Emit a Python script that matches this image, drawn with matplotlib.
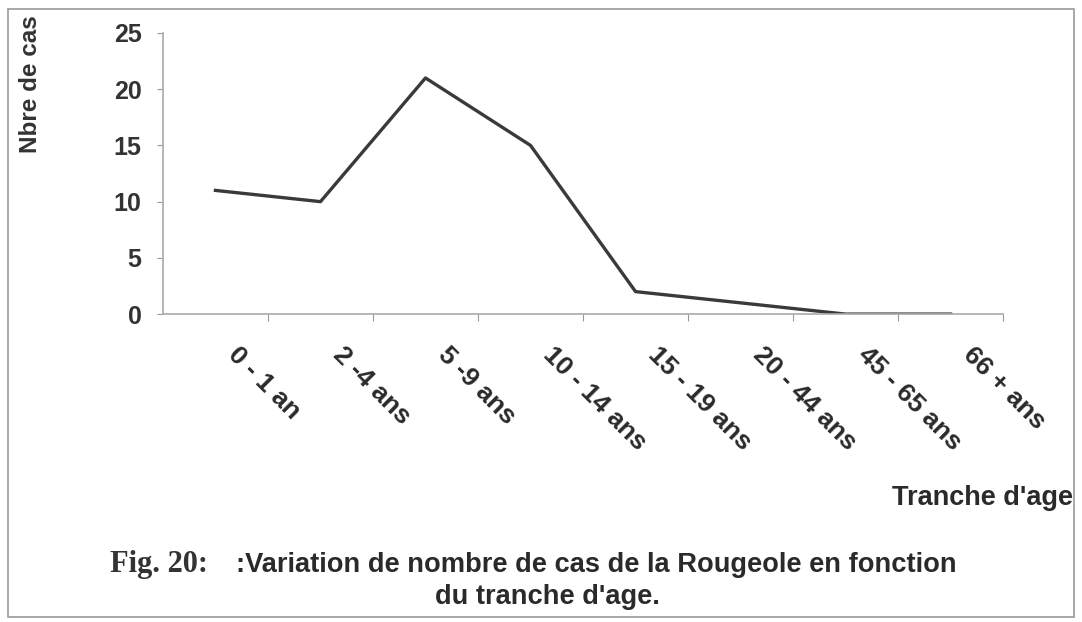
import numpy as np
import matplotlib
matplotlib.use("Agg")
import matplotlib.pyplot as plt
from matplotlib.patches import Rectangle

# data
categories = ["0 - 1 an", "2 -4 ans", "5 -9 ans", "10 - 14 ans",
              "15 - 19 ans", "20 - 44 ans", "45 - 65 ans", "66 + ans"]
cases = [11, 10, 21, 15, 2, 1, 0, 0]
yticks = [0, 5, 10, 15, 20, 25]

plt.rcParams['font.family'] = ['Liberation Sans', 'DejaVu Sans']

fig = plt.figure(figsize=(10.82, 6.22), dpi=100)
ax = fig.add_axes([0.1506, 0.495, 0.7765, 0.452])

x = np.arange(len(categories))
ax.plot(x, cases, color='#3a3a3a', lw=2.4)

ax.set_xlim(-0.5, len(categories) - 0.5)
ax.set_ylim(0, 25)
ax.set_yticks(yticks)
ax.set_yticklabels([str(v) for v in yticks], fontsize=18, fontweight='bold', color='#333333')

# category ticks sit between the categories, labels under each category
ax.set_xticks(x + 0.5)
ax.set_xticklabels([])
ax.tick_params(axis='x', length=5, color='#999999', direction='out')
ax.tick_params(axis='y', length=4.5, color='#999999', direction='out', pad=11)
for xi, lab in zip(x, categories):
    ax.text(xi + 0.24, -2.5, lab, rotation=-45, rotation_mode='anchor',
            ha='left', va='top', fontsize=19, fontweight='bold', color='#2a2a2a')

for s in ['top', 'right']:
    ax.spines[s].set_visible(False)
for s in ['left', 'bottom']:
    ax.spines[s].set_color('#aaaaaa')
    ax.spines[s].set_linewidth(1.2)

fig.text(0.028, 0.975, "Nbre de cas", rotation=90, ha='center', va='top',
         fontsize=17.5, fontweight='bold', color='#333333')
fig.text(0.992, 0.2, "Tranche d'age", ha='right', va='center',
         fontsize=19.5, fontweight='bold', color='#2a2a2a')

fig.text(0.102, 0.092, "Fig. 20:", ha='left', va='center', fontsize=22,
         fontweight='bold', family=['Liberation Serif', 'DejaVu Serif'], color='#333333')
fig.text(0.218, 0.092, ":Variation de nombre de cas de la Rougeole en fonction",
         ha='left', va='center', fontsize=19.6, fontweight='bold', color='#2a2a2a')
fig.text(0.506, 0.04, "du tranche d'age.", ha='center', va='center',
         fontsize=19.6, fontweight='bold', color='#2a2a2a')

# scan frame
fig.patches.append(Rectangle((0.007, 0.008), 0.986, 0.978, transform=fig.transFigure,
                             fill=False, edgecolor='#9a9a9a', lw=1.2))

fig.savefig("out.png", dpi=100)
